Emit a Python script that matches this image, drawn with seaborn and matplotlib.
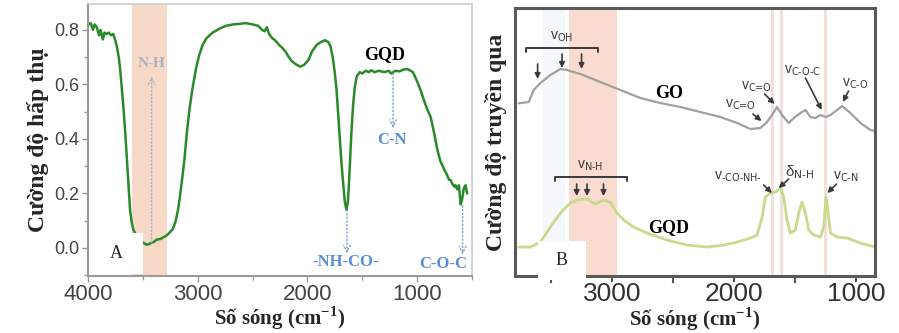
import matplotlib
matplotlib.use("Agg")
import matplotlib.pyplot as plt
import seaborn as sns
import numpy as np
import pandas as pd
from matplotlib.patches import Rectangle

sns.set_style("white")
plt.rcParams['font.family'] = ['Liberation Sans', 'DejaVu Sans']

# ---------------- Data: panel A (GQD absorbance) ----------------
a_wavenumber = [4000, 3975, 3955, 3940, 3920, 3900, 3885, 3865, 3850, 3830, 3810, 3790, 3770, 3750,
                3738, 3720, 3708, 3695, 3678, 3660, 3648, 3630, 3617, 3600, 3587, 3560, 3527, 3500,
                3467, 3440, 3420, 3400, 3377, 3340, 3310, 3286, 3260, 3226, 3200, 3180, 3165, 3140,
                3120, 3100, 3075, 3050, 3015, 2985, 2955, 2920, 2864, 2800, 2744, 2680, 2620, 2563,
                2500, 2450, 2413, 2390, 2370, 2350, 2322, 2290, 2260, 2232, 2200, 2170, 2142, 2110,
                2066, 2030, 1990, 1960, 1916, 1880, 1840, 1810, 1790, 1770, 1750, 1735, 1720, 1705,
                1690, 1675, 1660, 1645, 1632, 1624, 1612, 1600, 1585, 1569, 1550, 1524, 1500, 1470,
                1440, 1419, 1390, 1350, 1300, 1260, 1238, 1200, 1160, 1120, 1087, 1060, 1040, 1027,
                1000, 970, 937, 910, 877, 850, 816, 790, 756, 730, 710, 696, 680, 660, 650, 636,
                620, 604, 590, 575, 559, 545]
a_absorb = [0.818, 0.825, 0.80, 0.82, 0.81, 0.78, 0.80, 0.765, 0.79, 0.785, 0.79, 0.78, 0.785, 0.76,
            0.74, 0.70, 0.66, 0.60, 0.52, 0.42, 0.34, 0.22, 0.14, 0.09, 0.067, 0.045, 0.03, 0.02,
            0.012, 0.015, 0.02, 0.022, 0.03, 0.033, 0.04, 0.045, 0.055, 0.07, 0.10, 0.14, 0.18, 0.26,
            0.33, 0.42, 0.51, 0.58, 0.66, 0.71, 0.745, 0.77, 0.79, 0.805, 0.815, 0.82, 0.822, 0.825,
            0.82, 0.815, 0.80, 0.795, 0.81, 0.785, 0.77, 0.76, 0.745, 0.735, 0.72, 0.70, 0.685, 0.675,
            0.665, 0.672, 0.69, 0.72, 0.745, 0.755, 0.762, 0.755, 0.74, 0.70, 0.64, 0.58, 0.49, 0.40,
            0.31, 0.24, 0.17, 0.14, 0.17, 0.22, 0.32, 0.42, 0.52, 0.59, 0.63, 0.645, 0.64, 0.65,
            0.645, 0.652, 0.645, 0.65, 0.645, 0.65, 0.64, 0.65, 0.648, 0.655, 0.656, 0.65, 0.645, 0.635,
            0.61, 0.58, 0.54, 0.51, 0.48, 0.43, 0.36, 0.32, 0.29, 0.27, 0.25, 0.25, 0.235, 0.225, 0.23, 0.215,
            0.23, 0.16, 0.18, 0.22, 0.23, 0.20]

# ---------------- Data: panel B (transmittance, arbitrary units) ----------------
go_wavenumber = [3765, 3683, 3642, 3587, 3505, 3423, 3369, 3260, 3096, 2932, 2768, 2604, 2440, 2276,
                 2112, 1975, 1866, 1784, 1730, 1689, 1648, 1607, 1552, 1511, 1456, 1415, 1374, 1333,
                 1292, 1251, 1210, 1156, 1115, 1046, 964, 882, 845]
go_trans = [172.7, 174, 186, 193, 201, 207, 206, 202, 194, 186, 178, 173, 169, 164,
            159, 153, 147, 148, 154, 161, 169, 161, 153, 158, 163, 166, 159, 158,
            161, 159, 161, 166, 170, 163, 153, 146, 145]

gqd_wavenumber = [3765, 3669, 3587, 3505, 3423, 3342, 3287, 3205, 3137, 3068, 3014, 2959, 2904, 2822,
                  2713, 2549, 2385, 2221, 2082, 1975, 1866, 1811, 1770, 1743, 1702, 1661, 1620, 1593,
                  1566, 1538, 1497, 1470, 1443, 1415, 1388, 1347, 1292, 1265, 1246, 1229, 1210, 1156,
                  1074, 964, 845]
gqd_trans = [29, 29, 34, 49, 63, 73, 76, 77, 72, 76, 74, 63, 56, 49,
             43, 36, 31, 29, 31, 34, 38, 41, 59, 79, 83, 84, 88, 79,
             56, 43, 46, 63, 74, 63, 46, 41, 39, 49, 79, 63, 43, 39,
             38, 33, 29]

a_ticks = [4000, 3000, 2000, 1000]
a_yticks = [0.0, 0.2, 0.4, 0.6, 0.8]
b_ticks = [3000, 2000, 1000]

# ---------------- Figure ----------------
fig = plt.figure(figsize=(8.99, 3.33), dpi=100)
ax1 = fig.add_axes([0.0979, 0.171, 0.4272, 0.817])
ax2 = fig.add_axes([0.5729, 0.171, 0.4004, 0.805])

serif = ['Liberation Serif', 'DejaVu Serif']

# ----- Panel A -----
ax1.axvspan(3595, 3280, color='#f7d9c8', lw=0, zorder=0)
dfa = pd.DataFrame({'x': a_wavenumber, 'y': a_absorb})
sns.lineplot(data=dfa, x='x', y='y', ax=ax1, color='#2a8a2a', lw=1.8, sort=False, estimator=None)
ax1.set_xlim(4000, 540)
ax1.set_ylim(-0.103, 0.895)
ax1.set_xticks(a_ticks)
ax1.set_xticks([3500, 2500, 1500, 500], minor=True)
ax1.set_yticks(a_yticks)
ax1.set_yticklabels(['0.0', '0.2', '0.4', '0.6', '0.8'])
ax1.set_yticks([-0.1, 0.1, 0.3, 0.5, 0.7], minor=True)
ax1.tick_params(axis='both', which='major', direction='out', length=4, width=1, color='#999999',
                labelcolor='#444444', pad=2, bottom=True, left=True)
ax1.tick_params(axis='both', which='minor', direction='out', length=3, width=1, color='#999999',
                bottom=True, left=True)
ax1.tick_params(axis='x', labelsize=16)
ax1.tick_params(axis='y', labelsize=13)
for s in ['left', 'bottom']:
    ax1.spines[s].set_color('#9a9a9a')
    ax1.spines[s].set_linewidth(1.5)
for s in ['top', 'right']:
    ax1.spines[s].set_color('#c8ccd4')
    ax1.spines[s].set_linewidth(1.2)
ax1.set_xlabel('Số sóng (cm$^{\\mathregular{-1}}$)', fontsize=15, fontweight='bold', family=serif, labelpad=-1)
ax1.set_ylabel('Cường độ hấp thụ', fontsize=17, fontweight='bold', family=serif, labelpad=4)

arrow_blue = dict(arrowstyle='->', color='#7f9ccc', lw=1.0, linestyle=':', mutation_scale=12,
                  shrinkA=0, shrinkB=0)
ax1.annotate('', xy=(3420, 0.63), xytext=(3420, 0.02),
             arrowprops=dict(arrowstyle='->', color='#a8b4c8', lw=1.0, linestyle=':', mutation_scale=12,
                             shrinkA=0, shrinkB=0))
ax1.text(3420, 0.675, 'N-H', color='#a8b0c4', fontsize=11, fontweight='bold', family=serif, ha='center', va='center')
ax1.text(1300, 0.71, 'GQD', color='black', fontsize=13, fontweight='bold', family=serif, ha='center', va='center')
ax1.annotate('', xy=(1220, 0.44), xytext=(1220, 0.64), arrowprops=arrow_blue)
ax1.text(1230, 0.395, 'C-N', color='#5a8fd6', fontsize=12, fontweight='bold', family=serif, ha='center', va='center')
ax1.annotate('', xy=(1640, -0.02), xytext=(1640, 0.14), arrowprops=arrow_blue)
ax1.text(1650, -0.052, '-NH-CO-', color='#5a8fd6', fontsize=12, fontweight='bold', family=serif, ha='center', va='center')
ax1.annotate('', xy=(586, -0.025), xytext=(586, 0.155), arrowprops=arrow_blue)
ax1.text(548, -0.058, 'C-O-C', color='#5a8fd6', fontsize=12, fontweight='bold', family=serif, ha='right', va='center', clip_on=True)

# ----- Panel B -----
ax2.axvspan(3565, 3385, color='#f4f8fd', lw=0, zorder=0)
ax2.axvspan(3352, 2959, color='#f9dccf', lw=0, zorder=0)
for c in [1682, 1608, 1252]:
    ax2.axvspan(c - 12, c + 12, color='#f6e0db', lw=0, zorder=0)
dfgo = pd.DataFrame({'x': go_wavenumber, 'y': go_trans})
dfgq = pd.DataFrame({'x': gqd_wavenumber, 'y': gqd_trans})
sns.lineplot(data=dfgo, x='x', y='y', ax=ax2, color='#a0a09c', lw=1.6, sort=False, estimator=None)
sns.lineplot(data=dfgq, x='x', y='y', ax=ax2, color='#c8da8c', lw=2.0, sort=False, estimator=None)
ax2.set_xlim(3795, 845)
ax2.set_ylim(0, 268)
ax2.set_xticks(b_ticks)
ax2.set_xticks([3500, 2500, 1500], minor=True)
ax2.set_yticks([])
ax2.tick_params(axis='x', which='major', direction='out', length=4, width=1.5, color='#555555',
                labelsize=19, labelcolor='#333333', pad=0, bottom=True)
ax2.tick_params(axis='x', which='minor', direction='out', length=5, width=1.5, color='#555555', bottom=True)
for s in ax2.spines.values():
    s.set_color('#5a5a5a')
    s.set_linewidth(2.2)
ax2.set_xlabel('Số sóng (cm$^{\\mathregular{-1}}$)', fontsize=15, fontweight='bold', family=serif, labelpad=0)
ax2.set_ylabel('Cường độ truyền qua', fontsize=17, fontweight='bold', family=serif, labelpad=6)

ann = '#3a3a3a'
fs = 10
def bracket(x0, x1, y, h=4):
    ax2.plot([x0, x0, x1, x1], [y - h, y, y, y - h], color=ann, lw=1.4)

def arr(x0, y0, x1, y1):
    ax2.annotate('', xy=(x1, y1), xytext=(x0, y0),
                 arrowprops=dict(arrowstyle='-|>', color=ann, lw=1.2, mutation_scale=8,
                                 shrinkA=0, shrinkB=0))

def vlabel(x, y, sub, main='v', size=fs):
    ax2.text(x, y, main + '$_{\\text{' + sub + '}}$', color=ann, fontsize=size, ha='center', va='center')

bracket(3705, 3118, 228)
vlabel(3410, 239, 'OH')
arr(3610, 212, 3610, 197)
arr(3410, 222, 3410, 208)
arr(3250, 222, 3250, 207)

ax2.text(2530, 183, 'GO', color='black', fontsize=13, fontweight='bold', family=serif, ha='center', va='center')
ax2.text(2535, 49, 'GQD', color='black', fontsize=13, fontweight='bold', family=serif, ha='center', va='center')

vlabel(1815, 189, 'C=O')
arr(1750, 182, 1668, 172)
vlabel(1945, 171, 'C=O')
arr(1845, 162, 1775, 155)
vlabel(1440, 205, 'C-O-C')
arr(1415, 198, 1282, 166)
vlabel(1010, 192, 'C-O')
arr(1062, 185, 1108, 174)

bracket(3464, 2877, 99)
vlabel(3178, 110, 'N-H')
for xa in [3290, 3205, 3070]:
    arr(xa, 92, xa, 80)

vlabel(1965, 99, '-CO-NH-')
arr(1757, 91, 1690, 83)
vlabel(1460, 104, 'N-H', main='δ', size=fs + 1)
arr(1552, 97, 1634, 88)
vlabel(1080, 99, 'C-N')
arr(1160, 92, 1236, 83)

# ----- Panel letter boxes (figure coords) -----
W, H = 899.0, 333.0
def letter_box(x0, y0, x1, y1, label):
    fig.patches.append(Rectangle((x0 / W, 1 - y1 / H), (x1 - x0) / W, (y1 - y0) / H,
                                 transform=fig.transFigure, facecolor='white', edgecolor='none', zorder=10))
    fig.text((x0 + x1) / 2 / W, 1 - (y0 + y1) / 2 / H, label, fontsize=13, family=serif,
             ha='center', va='center', zorder=11)

letter_box(89, 233, 143, 274, 'A')
letter_box(538, 241, 586, 280, 'B')

fig.savefig('out.png', dpi=100)
